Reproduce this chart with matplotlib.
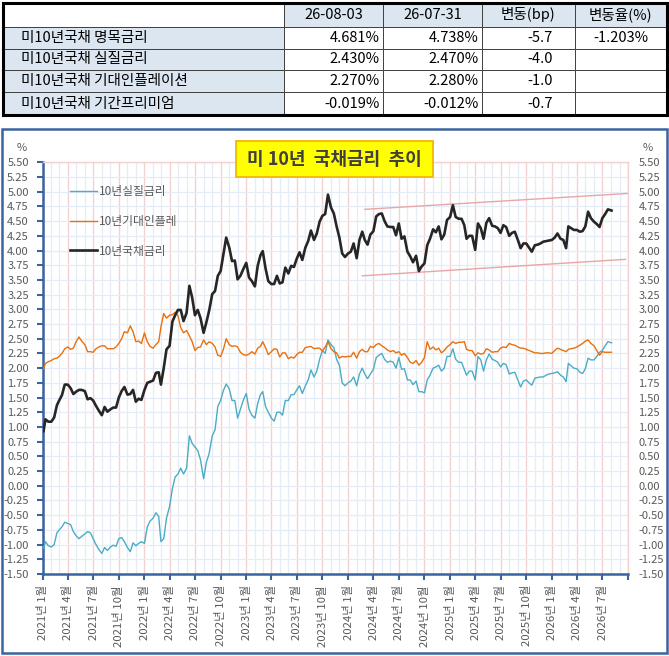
import datetime as dt
import numpy as np
import matplotlib
matplotlib.use('Agg')
import matplotlib.pyplot as plt
import matplotlib.dates as mdates
from matplotlib.patches import Rectangle

plt.rcParams['font.family'] = ['Noto Sans CJK KR', 'DejaVu Sans']
plt.rcParams['axes.unicode_minus'] = False

# ---------------- table data ----------------
tbl_headers = ['', '26-08-03', '26-07-31', '변동(bp)', '변동율(%)']
tbl_rows = ['미10년국채 명목금리', '미10년국채 실질금리', '미10년국채 기대인플레이션', '미10년국채 기간프리미엄']
tbl_cur = [4.681, 2.430, 2.270, -0.019]
tbl_prev = [4.738, 2.470, 2.280, -0.012]
tbl_bp = [-5.7, -4.0, -1.0, -0.7]
tbl_pct = [-1.203, None, None, None]

# ---------------- series data (sampled on 1st/11th/21st of each month) ----------------
dates = [dt.date(y, m, d) for y in range(2021, 2027) for m in range(1, 13) for d in (1, 11, 21)
         if (y, m) <= (2026, 7)]
dates[0] = dt.date(2021, 1, 4)
dates.append(dt.date(2026, 8, 3))

nominal = [
    # 2021
    0.93, 1.13, 1.09, 1.09, 1.16, 1.37, 1.45, 1.54, 1.72, 1.72, 1.66, 1.56,
    1.60, 1.63, 1.63, 1.61, 1.47, 1.49, 1.45, 1.36, 1.28, 1.20, 1.34, 1.26,
    1.30, 1.33, 1.33, 1.50, 1.61, 1.68, 1.55, 1.56, 1.63, 1.43, 1.48, 1.46,
    # 2022
    1.63, 1.75, 1.77, 1.79, 1.92, 1.93, 1.72, 2.00, 2.32, 2.38, 2.79, 2.90,
    2.99, 2.99, 2.80, 2.94, 3.40, 3.20, 2.90, 2.99, 2.85, 2.60, 2.78, 2.98,
    3.26, 3.31, 3.57, 3.65, 3.94, 4.22, 4.05, 3.82, 3.83, 3.51, 3.57, 3.68,
    # 2023
    3.79, 3.54, 3.48, 3.39, 3.74, 3.92, 3.99, 3.70, 3.48, 3.43, 3.43, 3.57,
    3.44, 3.46, 3.71, 3.61, 3.74, 3.72, 3.86, 3.97, 3.84, 4.05, 4.16, 4.34,
    4.18, 4.29, 4.49, 4.59, 4.62, 4.95, 4.73, 4.63, 4.41, 4.22, 3.95, 3.89,
    # 2024
    3.95, 3.98, 4.12, 3.87, 4.18, 4.32, 4.18, 4.10, 4.27, 4.33, 4.58, 4.62,
    4.63, 4.50, 4.41, 4.40, 4.40, 4.26, 4.46, 4.20, 4.24, 3.98, 3.90, 3.80,
    3.91, 3.65, 3.73, 3.78, 4.09, 4.20, 4.36, 4.31, 4.41, 4.19, 4.27, 4.52,
    # 2025
    4.57, 4.77, 4.57, 4.54, 4.54, 4.43, 4.20, 4.25, 4.25, 4.01, 4.46, 4.38,
    4.20, 4.47, 4.55, 4.42, 4.41, 4.38, 4.30, 4.43, 4.40, 4.25, 4.30, 4.32,
    4.18, 4.04, 4.12, 4.12, 4.05, 3.98, 4.09, 4.10, 4.12, 4.15, 4.16, 4.17,
    # 2026
    4.18, 4.22, 4.29, 4.20, 4.18, 4.04, 4.41, 4.38, 4.35, 4.35, 4.32, 4.33,
    4.41, 4.66, 4.55, 4.49, 4.45, 4.40, 4.55, 4.62, 4.70,
    4.68,
]

real = [
    # 2021
    -1.06, -0.95, -1.02, -1.04, -1.00, -0.80, -0.75, -0.70, -0.62, -0.64, -0.66, -0.78,
    -0.85, -0.90, -0.86, -0.82, -0.78, -0.80, -0.90, -1.00, -1.08, -1.15, -1.05, -1.10,
    -1.04, -1.01, -1.03, -0.90, -0.88, -0.95, -1.05, -1.12, -0.97, -1.02, -0.98, -0.95,
    # 2022
    -0.98, -0.70, -0.60, -0.55, -0.46, -0.52, -0.95, -0.90, -0.55, -0.35, -0.05, 0.15,
    0.20, 0.30, 0.20, 0.30, 0.85, 0.72, 0.66, 0.60, 0.44, 0.12, 0.40, 0.55,
    0.85, 0.95, 1.35, 1.45, 1.62, 1.73, 1.65, 1.45, 1.45, 1.15, 1.30, 1.45,
    # 2023
    1.57, 1.30, 1.20, 1.15, 1.40, 1.55, 1.60, 1.35, 1.25, 1.15, 1.10, 1.25,
    1.25, 1.20, 1.45, 1.45, 1.55, 1.55, 1.63, 1.70, 1.57, 1.70, 1.80, 1.97,
    1.85, 1.95, 2.15, 2.30, 2.25, 2.48, 2.40, 2.35, 2.15, 2.05, 1.75, 1.70,
    # 2024
    1.75, 1.78, 1.85, 1.70, 1.90, 2.00, 1.90, 1.82, 1.90, 1.98, 2.18, 2.22,
    2.25, 2.15, 2.10, 2.12, 2.10, 2.00, 2.18, 1.98, 1.99, 1.80, 1.80, 1.72,
    1.78, 1.60, 1.60, 1.58, 1.80, 1.88, 2.00, 2.02, 2.05, 1.95, 2.00, 2.20,
    # 2025
    2.20, 2.33, 2.15, 2.10, 2.10, 1.98, 1.88, 1.95, 1.95, 1.80, 2.20, 2.14,
    1.95, 2.14, 2.24, 2.15, 2.13, 2.10, 2.02, 2.08, 2.06, 1.90, 1.92, 1.93,
    1.80, 1.68, 1.78, 1.80, 1.75, 1.71, 1.83, 1.84, 1.85, 1.85, 1.88, 1.90,
    # 2026
    1.91, 1.92, 1.94, 1.88, 1.85, 1.77, 2.08, 2.04, 2.00, 1.99, 1.93, 1.91,
    1.99, 2.17, 2.14, 2.14, 2.20, 2.27, 2.30, 2.38, 2.45,
    2.43,
]

breakeven = [
    # 2021
    1.99, 2.08, 2.11, 2.13, 2.16, 2.17, 2.20, 2.25, 2.33, 2.36, 2.32, 2.34,
    2.45, 2.53, 2.46, 2.40, 2.28, 2.28, 2.27, 2.33, 2.36, 2.38, 2.38, 2.33,
    2.33, 2.33, 2.36, 2.42, 2.50, 2.62, 2.60, 2.72, 2.62, 2.45, 2.46, 2.42,
    # 2022
    2.60, 2.45, 2.37, 2.34, 2.40, 2.45, 2.70, 2.93, 2.85, 2.90, 2.91, 2.95,
    2.89, 2.69, 2.60, 2.64, 2.55, 2.45, 2.30, 2.35, 2.36, 2.48, 2.40, 2.45,
    2.42, 2.36, 2.22, 2.20, 2.32, 2.50, 2.40, 2.37, 2.38, 2.36, 2.27, 2.23,
    # 2023
    2.22, 2.24, 2.28, 2.24, 2.34, 2.37, 2.45, 2.35, 2.23, 2.28, 2.33, 2.32,
    2.19, 2.26, 2.26, 2.16, 2.19, 2.17, 2.23, 2.27, 2.27, 2.35, 2.36, 2.37,
    2.33, 2.34, 2.34, 2.29, 2.36, 2.45, 2.33, 2.28, 2.26, 2.17, 2.20, 2.19,
    # 2024
    2.20, 2.20, 2.27, 2.17, 2.28, 2.32, 2.28, 2.28, 2.37, 2.35, 2.40, 2.42,
    2.38, 2.35, 2.31, 2.28, 2.30, 2.26, 2.28, 2.22, 2.25, 2.18, 2.10, 2.08,
    2.13, 2.05, 2.10, 2.18, 2.45, 2.32, 2.36, 2.31, 2.34, 2.26, 2.30, 2.36,
    # 2025
    2.40, 2.45, 2.42, 2.44, 2.44, 2.45, 2.32, 2.30, 2.30, 2.21, 2.26, 2.24,
    2.25, 2.33, 2.31, 2.27, 2.28, 2.28, 2.34, 2.36, 2.35, 2.42, 2.40, 2.39,
    2.36, 2.34, 2.34, 2.32, 2.30, 2.28, 2.26, 2.26, 2.25, 2.25, 2.26, 2.26,
    # 2026
    2.25, 2.30, 2.34, 2.32, 2.30, 2.28, 2.32, 2.33, 2.34, 2.36, 2.39, 2.42,
    2.46, 2.48, 2.42, 2.38, 2.30, 2.22, 2.28, 2.27, 2.27,
    2.27,
]

# channel (trend) lines drawn on the chart
trend_dates = [dt.date(2024, 3, 1), dt.date(2026, 10, 1)]
trend_upper = [4.70, 4.97]
trend_dates_lo = [dt.date(2024, 2, 21), dt.date(2026, 9, 22)]
trend_lower = [3.57, 3.85]

series_names = ['10년실질금리', '10년기대인플레', '10년국채금리']
title_text = '미 10년  국채금리  추이'

# ---------------- figure ----------------
W, H = 669, 656
fig = plt.figure(figsize=(W / 100, H / 100), dpi=100)
fig.patch.set_facecolor('white')

L, R, T, B = 42.7, 628.0, 162.3, 574.0
ax = fig.add_axes([L / W, 1 - B / H, (R - L) / W, (B - T) / H])

C_BLUE = '#4BACC6'
C_ORANGE = '#E8700E'
C_BLACK = '#262626'
C_SPINE = '#3A64A0'
C_TXT = '#595959'

ax.plot(dates, real, color=C_BLUE, lw=1.0, zorder=3, label=series_names[0])
ax.plot(dates, breakeven, color=C_ORANGE, lw=1.0, zorder=4, label=series_names[1])
ax.plot(dates, nominal, color=C_BLACK, lw=1.9, zorder=5, label=series_names[2])
ax.plot(trend_dates, trend_upper, color='#E8A6A6', lw=1.0, zorder=2)
ax.plot(trend_dates_lo, trend_lower, color='#E8A6A6', lw=1.0, zorder=2)

ax.set_ylim(-1.5, 5.5)
yt = np.arange(-1.5, 5.51, 0.25)
ax.set_yticks(yt)
ax.set_yticklabels([f'{v:.2f}' for v in yt])

ax.set_xlim(dt.date(2021, 1, 1), dt.date(2026, 10, 1))
qt = [dt.date(y, m, 1) for y in range(2021, 2027) for m in (1, 4, 7, 10)]
ax.set_xticks(qt)
ax.set_xticklabels([f'{d.year}년 {d.month}월' if d < dt.date(2026, 8, 1) else '' for d in qt],
                   rotation=90, ha='center', va='top')
ax.xaxis.set_minor_locator(mdates.MonthLocator(bymonth=[2, 3, 5, 6, 8, 9, 11, 12]))

ax.grid(which='major', axis='x', color='#F1D2D2', lw=1.0, zorder=0)
ax.grid(which='minor', axis='x', color='#E6ECF5', lw=0.9, zorder=0)
ax.grid(which='major', axis='y', color='#E6ECF5', lw=0.9, zorder=0)
ax.set_axisbelow(True)

for s in ('top', 'right'):
    ax.spines[s].set_color('#F1D2D2')
    ax.spines[s].set_linewidth(1.0)
for s in ('left', 'bottom'):
    ax.spines[s].set_color(C_SPINE)
    ax.spines[s].set_linewidth(1.8)

ax.tick_params(axis='y', which='major', direction='out', length=4, width=1.5, color=C_SPINE,
               labelsize=8, labelcolor=C_TXT, pad=6)
ax.tick_params(axis='x', which='major', direction='out', length=4, width=1.5, color=C_SPINE,
               labelsize=8.2, labelcolor=C_TXT, pad=4)
ax.tick_params(axis='x', which='minor', length=0)

ax2 = ax.twinx()
ax2.set_ylim(-1.5, 5.5)
ax2.set_yticks(yt)
ax2.set_yticklabels([f'{v:.2f}' for v in yt])
ax2.tick_params(axis='y', length=0, labelsize=8, labelcolor=C_TXT, pad=7.5)
for s in ax2.spines.values():
    s.set_visible(False)

leg = ax.legend(loc='upper left', bbox_to_anchor=(70 / W, 1 - 185 / H), bbox_transform=fig.transFigure,
                frameon=False, fontsize=8.5, handlelength=2.3, handletextpad=0.15,
                labelspacing=1.42, borderpad=0, borderaxespad=0)
for t in leg.get_texts():
    t.set_color(C_TXT)

# ---------------- overlay (table, frame, title) ----------------
ov = fig.add_axes([0, 0, 1, 1], zorder=10)
ov.set_xlim(0, W)
ov.set_ylim(H, 0)
ov.axis('off')

# chart frame
ov.add_patch(Rectangle((2, 128.5), 665, 524, fill=False, edgecolor=C_SPINE, lw=1.8))

# title box
ov.add_patch(Rectangle((236, 141), 197, 36, facecolor='#FFFF00', edgecolor='#F2B705', lw=1.3))
ov.text(334.5, 159.5, title_text, ha='center', va='center', fontsize=13, fontweight='bold',
        color='#3F3F3F')

# % labels
ov.text(21.5, 148, '%', ha='center', va='center', fontsize=8, color=C_TXT)
ov.text(648, 148, '%', ha='center', va='center', fontsize=8, color=C_TXT)

# table
xe = [2.5, 284, 383, 482, 575, 666.5]
ye = [3, 27, 48.5, 70, 92.3, 115]
FILL = '#DCE6F1'
for j in range(5):
    for i in range(5):
        fc = 'white'
        if i == 0 and j > 0:
            fc = FILL
        if j == 0 and i > 0:
            fc = FILL
        ov.add_patch(Rectangle((xe[j], ye[i]), xe[j + 1] - xe[j], ye[i + 1] - ye[i],
                               facecolor=fc, edgecolor='#404040', lw=0.7))
ov.add_patch(Rectangle((xe[0], ye[0]), xe[-1] - xe[0], ye[-1] - ye[0], fill=False,
                       edgecolor='black', lw=2.2))

FS = 10.5
for j in range(1, 5):
    ov.text((xe[j] + xe[j + 1]) / 2, (ye[0] + ye[1]) / 2, tbl_headers[j], ha='center', va='center',
            fontsize=FS, color='black')
for i in range(4):
    yc = (ye[i + 1] + ye[i + 2]) / 2
    ov.text(21, yc, tbl_rows[i], ha='left', va='center', fontsize=FS, color='black')
    ov.text(xe[2] - 3, yc, f'{tbl_cur[i]:.3f}%', ha='right', va='center', fontsize=FS)
    ov.text(xe[3] - 3, yc, f'{tbl_prev[i]:.3f}%', ha='right', va='center', fontsize=FS)
    ov.text(553, yc, f'{tbl_bp[i]:.1f}', ha='right', va='center', fontsize=FS)
    if tbl_pct[i] is not None:
        ov.text(648, yc, f'{tbl_pct[i]:.3f}%', ha='right', va='center', fontsize=FS)

fig.savefig('out.png', dpi=100, facecolor='white')
